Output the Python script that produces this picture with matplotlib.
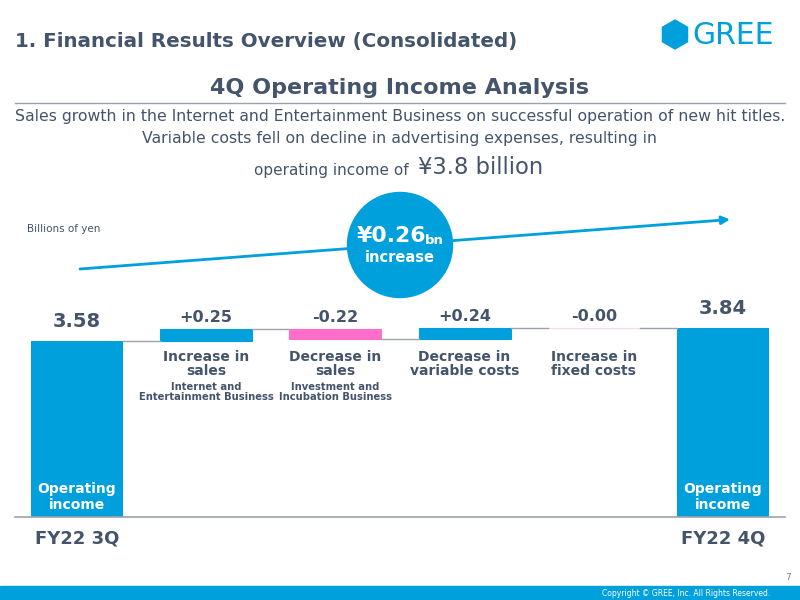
import matplotlib.pyplot as plt
import numpy as np
from matplotlib.patches import Circle, RegularPolygon, Rectangle

# data
start_label = "FY22 3Q"
end_label = "FY22 4Q"
start_value = 3.58
end_value = 3.84
steps = ["Increase in\nsales", "Decrease in\nsales", "Decrease in\nvariable costs", "Increase in\nfixed costs"]
step_notes = ["Internet and\nEntertainment Business", "Investment and\nIncubation Business", "", ""]
deltas = [0.25, -0.22, 0.24, -0.004]
delta_labels = ["+0.25", "-0.22", "+0.24", "-0.00"]

BLUE = "#00A0DC"
PINK = "#FF6EC8"
PALE_PINK = "#FFD6EE"
TXT = "#44546A"
GREY = "#9AA3AD"

W, H = 800, 600
fig = plt.figure(figsize=(8, 6), dpi=100)

# background axes in pixel coords (y down)
bg = fig.add_axes([0, 0, 1, 1])
bg.set_xlim(0, W)
bg.set_ylim(H, 0)
bg.axis("off")

# header
bg.text(15, 42, "1. Financial Results Overview (Consolidated)", fontsize=14.3, fontweight="bold",
        color=TXT, va="center", ha="left")
bg.add_patch(RegularPolygon((675, 34.5), numVertices=6, radius=14.5, orientation=0, color=BLUE))
bg.text(692, 36, "GREE", fontsize=21.5, color=BLUE, va="center", ha="left")

bg.text(400, 88, "4Q Operating Income Analysis", fontsize=16, fontweight="bold", color=TXT,
        ha="center", va="center")
bg.plot([15, 785], [103, 103], color=GREY, lw=1)
bg.text(400, 117, "Sales growth in the Internet and Entertainment Business on successful operation of new hit titles.",
        fontsize=11.3, color=TXT, ha="center", va="center")
bg.text(400, 139, "Variable costs fell on decline in advertising expenses, resulting in",
        fontsize=11.3, color=TXT, ha="center", va="center")
bg.text(414, 170, "operating income of ", fontsize=11, color=TXT, ha="right", va="center")
bg.text(418, 167, "¥3.8 billion", fontsize=16.3, color=TXT, ha="left", va="center")

bg.text(27, 229, "Billions of yen", fontsize=7.5, color=TXT, ha="left", va="center")

# trend arrow and circle
bg.annotate("", xy=(730, 219.5), xytext=(80, 269),
            arrowprops=dict(arrowstyle="-|>", color=BLUE, lw=2, mutation_scale=12, shrinkA=0, shrinkB=0))
bg.add_patch(Circle((400, 245), 52.5, color=BLUE, zorder=3))
bg.text(357, 236, "¥0.26", fontsize=15.8, fontweight="bold", color="white", ha="left", va="center", zorder=4)
bg.text(425, 240, "bn", fontsize=9.5, fontweight="bold", color="white", ha="left", va="center", zorder=4)
bg.text(400, 257, "increase", fontsize=10.5, fontweight="bold", color="white", ha="center", va="center", zorder=4)

# footer
bg.add_patch(Rectangle((0, 586), W, 14, color=BLUE))
bg.text(770, 593, "Copyright © GREE, Inc. All Rights Reserved.", fontsize=5.5, color="white",
        ha="right", va="center")
bg.text(791, 577, "7", fontsize=6.5, color="#808080", ha="right", va="center")

# waterfall chart
ax = fig.add_axes([15 / W, 1 - 517 / H, 770 / W, 221.4 / H])
ax.set_xlim(-0.48, 5.48)
ax.set_ylim(0, 4.5)
ax.axis("off")

n = len(deltas)
levels = start_value + np.cumsum(deltas)
bottoms = np.concatenate([[start_value], levels[:-1]])
bw = 0.713

ax.bar(0, start_value, width=bw, color=BLUE)
ax.bar(n + 1, end_value, width=bw, color=BLUE)
for i, (b, d) in enumerate(zip(bottoms, deltas)):
    col = BLUE if d > 0 else PINK
    edge = PALE_PINK if abs(d) < 0.01 else col
    ax.bar(i + 1, d, bottom=b, width=bw, color=col, edgecolor=edge, lw=0.8)

# connectors
conn = np.concatenate([[start_value], levels])
for i, lv in enumerate(conn):
    ax.plot([i + bw / 2, i + 1 - bw / 2], [lv, lv], color=GREY, lw=1)

ax.plot([-0.48, 5.48], [0, 0], color=GREY, lw=1.2, clip_on=False)

# value labels
ax.annotate(f"{start_value:.2f}", xy=(0, start_value), xytext=(0, 14), textcoords="offset points",
            ha="center", va="center", fontsize=14, fontweight="bold", color=TXT)
ax.annotate(f"{end_value:.2f}", xy=(n + 1, end_value), xytext=(0, 14), textcoords="offset points",
            ha="center", va="center", fontsize=14, fontweight="bold", color=TXT)
for i, lab in enumerate(delta_labels):
    top = max(bottoms[i], bottoms[i] + deltas[i])
    ax.annotate(lab, xy=(i + 1, top), xytext=(0, 8), textcoords="offset points",
                ha="center", va="center", fontsize=11.5, fontweight="bold", color=TXT)

# category labels
for i, (s, note) in enumerate(zip(steps, step_notes)):
    ax.annotate(s, xy=(i + 1, 1 - 364 / H), xycoords=("data", "figure fraction"), ha="center", va="center",
                fontsize=10, fontweight="bold", color=TXT, linespacing=1.05)
    if note:
        ax.annotate(note, xy=(i + 1, 1 - 392 / H), xycoords=("data", "figure fraction"), ha="center",
                    va="center", fontsize=7.2, fontweight="bold", color=TXT, linespacing=1.1)

for xi in (0, n + 1):
    ax.annotate("Operating\nincome", xy=(xi, 1 - 497 / H), xycoords=("data", "figure fraction"),
                ha="center", va="center", fontsize=10, fontweight="bold", color="white", linespacing=1.1)
ax.annotate(start_label, xy=(0, 1 - 539 / H), xycoords=("data", "figure fraction"), ha="center", va="center",
            fontsize=13, fontweight="bold", color=TXT)
ax.annotate(end_label, xy=(n + 1, 1 - 539 / H), xycoords=("data", "figure fraction"), ha="center",
            va="center", fontsize=13, fontweight="bold", color=TXT)

fig.savefig("out.png", dpi=100)
